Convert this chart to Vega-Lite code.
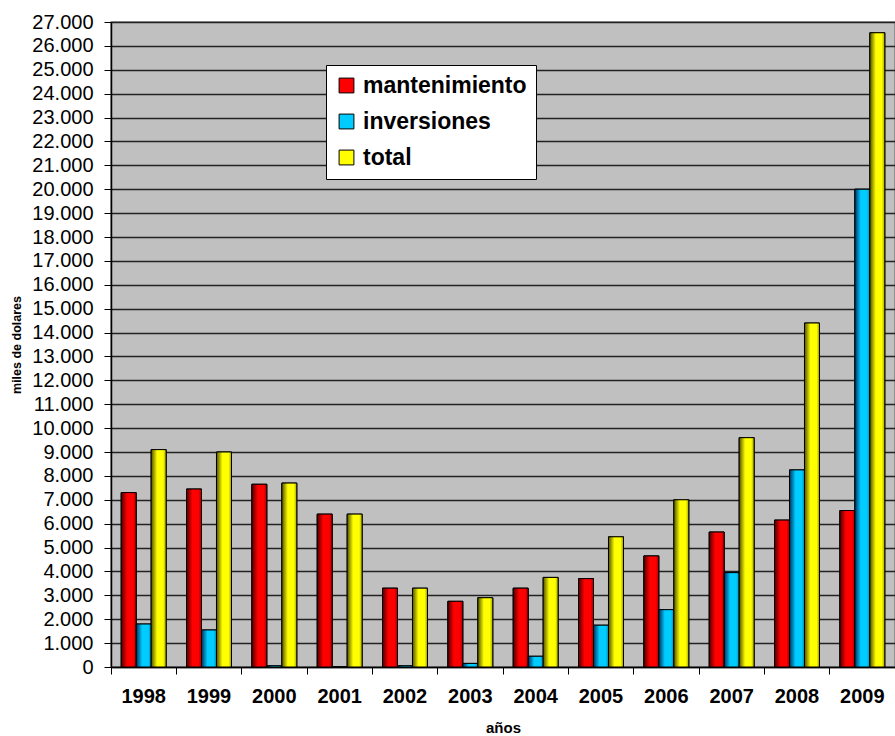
{
  "$schema": "https://vega.github.io/schema/vega-lite/v6.json",
  "width": 784,
  "height": 645,
  "autosize": "none",
  "padding": {"left": 111, "top": 22, "right": 0, "bottom": 69},
  "background": "white",
  "config": {
    "font": "Liberation Sans",
    "view": {"fill": "#c0c0c0", "stroke": "#808080", "strokeWidth": 1.5}
  },
  "data": {
    "values": [
      {"year": "1998", "serie": "mantenimiento", "value": 7300},
      {"year": "1998", "serie": "inversiones", "value": 1800},
      {"year": "1998", "serie": "total", "value": 9100},
      {"year": "1999", "serie": "mantenimiento", "value": 7450},
      {"year": "1999", "serie": "inversiones", "value": 1550},
      {"year": "1999", "serie": "total", "value": 9000},
      {"year": "2000", "serie": "mantenimiento", "value": 7650},
      {"year": "2000", "serie": "inversiones", "value": 50},
      {"year": "2000", "serie": "total", "value": 7700},
      {"year": "2001", "serie": "mantenimiento", "value": 6400},
      {"year": "2001", "serie": "inversiones", "value": 0},
      {"year": "2001", "serie": "total", "value": 6400},
      {"year": "2002", "serie": "mantenimiento", "value": 3300},
      {"year": "2002", "serie": "inversiones", "value": 50},
      {"year": "2002", "serie": "total", "value": 3300},
      {"year": "2003", "serie": "mantenimiento", "value": 2750},
      {"year": "2003", "serie": "inversiones", "value": 150},
      {"year": "2003", "serie": "total", "value": 2900},
      {"year": "2004", "serie": "mantenimiento", "value": 3300},
      {"year": "2004", "serie": "inversiones", "value": 450},
      {"year": "2004", "serie": "total", "value": 3750},
      {"year": "2005", "serie": "mantenimiento", "value": 3700},
      {"year": "2005", "serie": "inversiones", "value": 1750},
      {"year": "2005", "serie": "total", "value": 5450},
      {"year": "2006", "serie": "mantenimiento", "value": 4650},
      {"year": "2006", "serie": "inversiones", "value": 2400},
      {"year": "2006", "serie": "total", "value": 7000},
      {"year": "2007", "serie": "mantenimiento", "value": 5650},
      {"year": "2007", "serie": "inversiones", "value": 3950},
      {"year": "2007", "serie": "total", "value": 9600},
      {"year": "2008", "serie": "mantenimiento", "value": 6150},
      {"year": "2008", "serie": "inversiones", "value": 8250},
      {"year": "2008", "serie": "total", "value": 14400},
      {"year": "2009", "serie": "mantenimiento", "value": 6550},
      {"year": "2009", "serie": "inversiones", "value": 20000},
      {"year": "2009", "serie": "total", "value": 26550}
    ]
  },
  "encoding": {
    "x": {
      "field": "year",
      "type": "nominal",
      "scale": {"paddingInner": 0, "paddingOuter": 0},
      "axis": {
        "title": "años",
        "titleFont": "Liberation Sans",
        "titleFontSize": 15,
        "titleFontWeight": "bold",
        "titlePadding": 14,
        "labelAngle": 0,
        "labelFont": "Liberation Sans",
        "labelFontSize": 20,
        "labelFontWeight": "bold",
        "labelColor": "#000000",
        "labelPadding": 12,
        "bandPosition": 0,
        "tickSize": 7,
        "tickColor": "#000000",
        "domainColor": "#000000",
        "domainWidth": 1.5,
        "grid": false
      }
    },
    "xOffset": {
      "field": "serie",
      "type": "nominal",
      "scale": {"domain": ["mantenimiento", "inversiones", "total"], "paddingInner": 0, "paddingOuter": 0.68}
    },
    "y": {
      "field": "value",
      "type": "quantitative",
      "scale": {"domain": [0, 27000], "nice": false},
      "axis": {
        "title": "miles de dolares",
        "titleFont": "Liberation Sans",
        "titleFontSize": 12.5,
        "titleFontWeight": "bold",
        "titlePadding": 8,
        "tickCount": 27,
        "labelExpr": "replace(format(datum.value, ','), ',', '.')",
        "labelFont": "Liberation Sans",
        "labelFontSize": 20,
        "labelColor": "#000000",
        "labelPadding": 11,
        "tickSize": 7,
        "tickColor": "#000000",
        "domainColor": "#000000",
        "domainWidth": 1.5,
        "grid": true,
        "gridColor": "#222222",
        "gridWidth": 1.5
      }
    }
  },
  "layer": [
    {
      "mark": {"type": "bar", "stroke": "#000000", "strokeWidth": 1},
      "encoding": {
        "color": {
          "field": "serie",
          "type": "nominal",
          "scale": {
            "domain": ["mantenimiento", "inversiones", "total"],
            "range": ["#ff0000", "#00ccff", "#ffff00"]
          },
          "legend": {
            "title": null,
            "orient": "none",
            "legendX": 215,
            "legendY": 43,
            "fillColor": "#ffffff",
            "strokeColor": "#000000",
            "padding": 9,
            "symbolType": "square",
            "symbolSize": 220,
            "symbolStrokeColor": "#000000",
            "symbolStrokeWidth": 1,
            "labelFont": "Liberation Sans",
            "labelFontSize": 23,
            "labelFontWeight": "bold",
            "labelColor": "#000000",
            "labelLimit": 400,
            "labelOffset": 5,
            "rowPadding": 12
          }
        }
      }
    },
    {
      "transform": [{"filter": "datum.serie === 'mantenimiento'"}],
      "mark": {
        "type": "bar", "stroke": "#000000", "strokeWidth": 1,
        "color": {"gradient": "linear", "x1": 0, "x2": 1, "y1": 0, "y2": 0, "stops": [{"offset": 0, "color": "#500000"}, {"offset": 0.4, "color": "#ff0000"}, {"offset": 0.8, "color": "#ff0000"}, {"offset": 1, "color": "#a00000"}]}
      }
    },
    {
      "transform": [{"filter": "datum.serie === 'inversiones'"}],
      "mark": {
        "type": "bar", "stroke": "#000000", "strokeWidth": 1,
        "color": {"gradient": "linear", "x1": 0, "x2": 1, "y1": 0, "y2": 0, "stops": [{"offset": 0, "color": "#003060"}, {"offset": 0.4, "color": "#00ccff"}, {"offset": 0.8, "color": "#00ccff"}, {"offset": 1, "color": "#0090c0"}]}
      }
    },
    {
      "transform": [{"filter": "datum.serie === 'total'"}],
      "mark": {
        "type": "bar", "stroke": "#000000", "strokeWidth": 1,
        "color": {"gradient": "linear", "x1": 0, "x2": 1, "y1": 0, "y2": 0, "stops": [{"offset": 0, "color": "#505000"}, {"offset": 0.4, "color": "#ffff00"}, {"offset": 0.8, "color": "#ffff00"}, {"offset": 1, "color": "#a0a000"}]}
      }
    }
  ]
}
